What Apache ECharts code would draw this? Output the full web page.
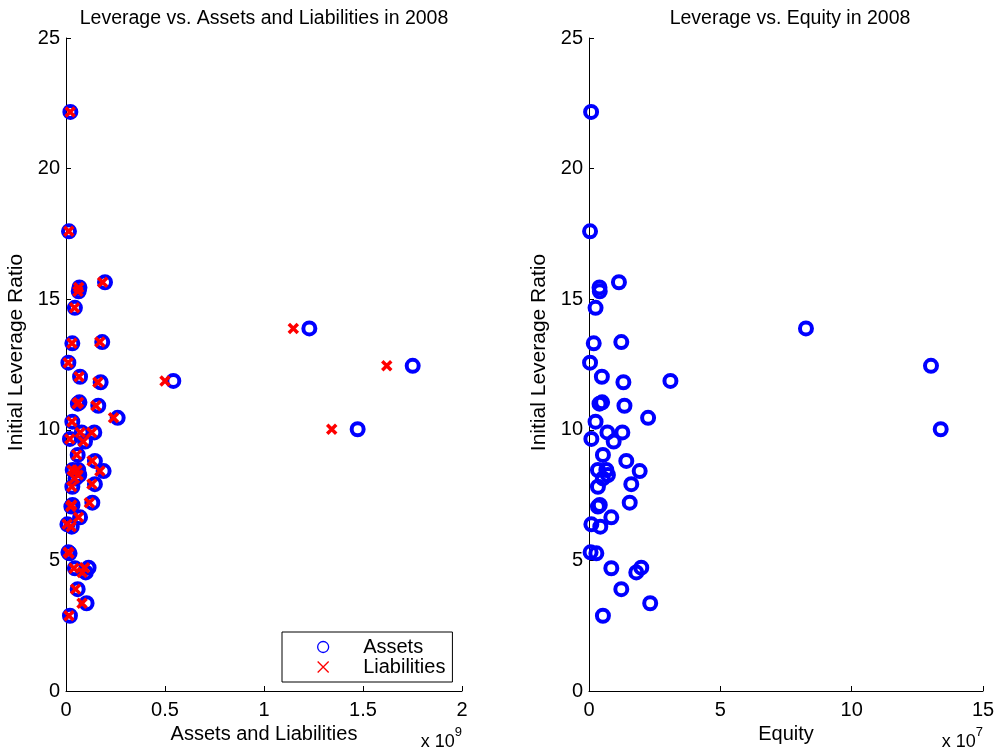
<!DOCTYPE html>
<html>
<head>
<meta charset="utf-8">
<script src="https://cdn.jsdelivr.net/npm/echarts@6/dist/echarts.min.js"></script>
<style>html,body{margin:0;padding:0;background:#fff}#c{width:999px;height:752px}</style>
</head>
<body>
<div id="c"></div>
<script>
// Initial leverage ratio per firm
const leverage = [22.17,17.60,15.65,15.45,15.30,14.67,13.88,13.36,13.31,12.57,12.45,12.03,11.87,11.82,11.05,11.00,10.92,10.46,10.31,10.02,9.90,9.90,9.65,9.55,9.04,8.81,8.46,8.46,8.42,8.27,8.14,7.92,7.82,7.21,7.12,7.06,6.65,6.38,6.29,5.31,5.27,4.72,4.70,4.54,3.90,3.36,2.88];
// Assets (x 10^9)
const assets = [0.022,0.015,0.197,0.068,0.064,0.045,1.229,0.183,0.032,0.012,1.751,0.071,0.542,0.175,0.068,0.060,0.163,0.261,0.032,1.473,0.079,0.143,0.020,0.096,0.059,0.146,0.034,0.062,0.190,0.067,0.048,0.146,0.032,0.133,0.033,0.027,0.071,0.007,0.029,0.012,0.018,0.114,0.045,0.100,0.059,0.104,0.020];
// Liabilities (x 10^9)
const liabilities = [0.021,0.014,0.185,0.064,0.060,0.043,1.148,0.171,0.030,0.011,1.620,0.066,0.500,0.161,0.063,0.056,0.151,0.240,0.030,1.342,0.072,0.130,0.019,0.087,0.054,0.132,0.031,0.056,0.171,0.061,0.043,0.131,0.029,0.118,0.029,0.024,0.063,0.006,0.026,0.011,0.015,0.094,0.040,0.082,0.048,0.081,0.015];
// Equity (x 10^7)
const equity = [0.08,0.04,1.14,0.40,0.41,0.25,8.26,1.23,0.18,0.04,13.02,0.49,3.10,1.31,0.50,0.40,1.35,2.25,0.25,13.39,0.70,1.27,0.09,0.94,0.53,1.42,0.34,0.66,1.93,0.72,0.53,1.61,0.34,1.55,0.41,0.34,0.85,0.09,0.43,0.06,0.28,1.99,0.85,1.80,1.23,2.33,0.53];

const leftTicks = {min:0, max:2, interval:0.5};
const rightTicks = {min:0, max:15, interval:5};
const yTicks = {min:0, max:25, interval:5};

const FONT = 'Liberation Sans, Arial, Helvetica, sans-serif';
const CROSS = 'path://M0,0L10,10M0,10L10,0';
const FS = 20;

function xAxis(idx, t, name){
  return {
    type:'value', gridIndex:idx, min:t.min, max:t.max, interval:t.interval,
    name:name, nameLocation:'middle', nameGap:27,
    nameTextStyle:{color:'#000', fontSize:FS, fontFamily:FONT},
    axisLine:{show:true, onZero:false, lineStyle:{color:'#000', width:1}},
    axisTick:{show:true, inside:true, length:5, lineStyle:{color:'#000'}},
    axisLabel:{color:'#000', fontSize:FS, fontFamily:FONT, margin:9},
    splitLine:{show:false}
  };
}
function yAxis(idx){
  return {
    type:'value', gridIndex:idx, min:yTicks.min, max:yTicks.max, interval:yTicks.interval,
    name:'Initial Leverage Ratio', nameLocation:'middle', nameGap:39,
    nameTextStyle:{color:'#000', fontSize:21, fontFamily:FONT, padding:[0,0,0,24]},
    axisLine:{show:true, onZero:false, lineStyle:{color:'#000', width:1}},
    axisTick:{show:true, inside:true, length:5, lineStyle:{color:'#000'}},
    axisLabel:{color:'#000', fontSize:FS, fontFamily:FONT, margin:6},
    splitLine:{show:false}
  };
}

const chart = echarts.init(document.getElementById('c'), null, {renderer:'canvas'});
chart.setOption({
  backgroundColor:'#fff',
  animation:false,
  title:[
    {text:'Leverage vs. Assets and Liabilities in 2008', left:259, top:4, textAlign:'center',
     textStyle:{color:'#000', fontSize:19.5, fontWeight:'normal', fontFamily:FONT}},
    {text:'Leverage vs. Equity in 2008', left:785, top:4, textAlign:'center',
     textStyle:{color:'#000', fontSize:19.5, fontWeight:'normal', fontFamily:FONT}}
  ],
  grid:[
    {left:66, right:537, top:38, bottom:61},
    {left:589, right:16, top:38, bottom:61}
  ],
  xAxis:[xAxis(0, leftTicks, 'Assets and Liabilities'), xAxis(1, rightTicks, 'Equity')],
  yAxis:[yAxis(0), yAxis(1)],
  legend:{
    left:282, top:632, orient:'vertical',
    backgroundColor:'#fff', borderColor:'#000', borderWidth:1,
    padding:[5,7,5,35], itemGap:0, itemWidth:60, itemHeight:11,
    textStyle:{color:'#000', fontSize:FS, fontFamily:FONT, padding:[0,0,0,5], lineHeight:20},
    data:[
      {name:'Assets', itemStyle:{borderWidth:1.3}},
      {name:'Liabilities', itemStyle:{borderWidth:1.3}}
    ]
  },
  series:[
    {name:'Assets', type:'scatter', xAxisIndex:0, yAxisIndex:0,
     symbol:'circle', symbolSize:12,
     itemStyle:{color:'rgba(0,0,0,0)', borderColor:'#0000ff', borderWidth:4, opacity:1},
     data:assets.map((a,i)=>[a, leverage[i]]), z:2},
    {name:'Liabilities', type:'scatter', xAxisIndex:0, yAxisIndex:0,
     symbol:CROSS, symbolSize:9,
     itemStyle:{color:'#ff0000', borderColor:'#ff0000', borderWidth:3.5, opacity:1},
     data:liabilities.map((l,i)=>[l, leverage[i]]), z:3},
    {name:'Equity', type:'scatter', xAxisIndex:1, yAxisIndex:1,
     symbol:'circle', symbolSize:12,
     itemStyle:{color:'rgba(0,0,0,0)', borderColor:'#0000ff', borderWidth:4, opacity:1},
     data:equity.map((e,i)=>[e, leverage[i]])}
  ],
  graphic:[
    {type:'text', right:999-462, top:726,
     style:{text:'{a|x 10}{b|9}', rich:{a:{fontSize:18, fontFamily:FONT, fill:'#000', padding:[7,0,0,0]}, b:{fontSize:13, fontFamily:FONT, fill:'#000', verticalAlign:'top'}}}},
    {type:'text', right:999-983, top:726,
     style:{text:'{a|x 10}{b|7}', rich:{a:{fontSize:18, fontFamily:FONT, fill:'#000', padding:[7,0,0,0]}, b:{fontSize:13, fontFamily:FONT, fill:'#000', verticalAlign:'top'}}}}
  ]
});
</script>
</body>
</html>
